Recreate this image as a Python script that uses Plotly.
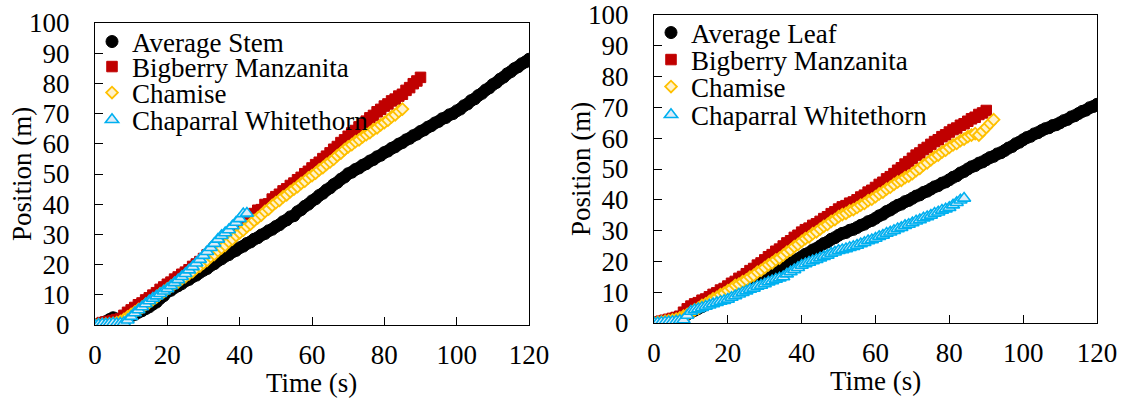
import plotly.graph_objects as go

# ---------------- data (position in m, sampled every 1 s from t = 0) ----------------
stem_avg = [0.0, 0.3, 0.7, 1.1, 1.8, 2.4, 2.0, 1.5, 1.8, 2.4, 3.0,
            3.5, 4.2, 4.7, 5.4, 6.0, 6.9, 7.6, 8.8, 9.7, 11.0,
            11.5, 12.4, 13.0, 13.7, 14.6, 15.1, 16.0, 16.5, 17.4, 18.1,
            18.7, 19.7, 20.3, 21.3, 21.9, 22.8, 23.3, 24.2, 24.7, 25.6,
            26.1, 27.0, 27.5, 28.4, 28.9, 29.8, 30.3, 31.2, 31.7, 32.6,
            33.2, 34.2, 34.8, 35.8, 36.2, 37.5, 38.2, 39.3, 40.0, 41.1,
            41.8, 42.9, 43.6, 44.7, 45.4, 46.5, 47.2, 48.3, 49.0, 50.1,
            50.6, 51.5, 52.0, 52.9, 53.4, 54.3, 54.8, 55.7, 56.2, 57.1,
            57.6, 58.5, 59.0, 59.9, 60.4, 61.3, 61.8, 62.7, 63.2, 64.1,
            64.6, 65.5, 66.0, 66.9, 67.4, 68.3, 68.7, 69.6, 70.0, 70.9,
            71.5, 72.6, 73.2, 74.3, 74.9, 76.0, 76.7, 77.8, 78.5, 79.6,
            80.3, 81.4, 82.1, 83.2, 83.9, 84.9, 85.5, 86.5, 87.1, 88.0]
stem_bigberry = [0.0, 0.4, 0.8, 1.0, 1.2, 1.5, 1.8, 2.0, 3.2, 4.2, 5.0,
                 5.8, 6.7, 7.3, 8.3, 9.0, 9.9, 10.7, 11.8, 12.6, 13.5,
                 14.2, 15.2, 15.9, 16.8, 17.5, 18.3, 19.4, 20.2, 21.0, 22.0,
                 23.2, 24.1, 25.4, 26.3, 27.5, 28.5, 29.8, 30.7, 32.0, 33.0,
                 34.1, 34.9, 36.1, 36.9, 38.0, 38.2, 39.9, 40.1, 41.7, 42.5,
                 43.3, 44.4, 45.1, 46.2, 47.0, 48.1, 48.9, 50.1, 50.9, 52.0,
                 53.1, 53.9, 55.1, 55.9, 57.0, 58.2, 59.1, 60.4, 61.3, 62.5,
                 63.6, 64.4, 65.6, 66.4, 67.5, 68.6, 69.4, 70.6, 71.4, 72.5,
                 73.2, 74.2, 74.8, 75.8, 76.4, 77.7, 78.6, 79.9, 80.8, 82.0]
stem_chamise = [0.0, 0.1, 0.2, 0.3, 0.4, 0.5, 0.8, 1.2, 1.9, 2.7, 3.5,
                4.3, 5.2, 5.8, 6.8, 7.5, 8.4, 9.2, 10.3, 11.0, 12.0,
                12.8, 13.7, 14.3, 15.3, 16.0, 16.9, 17.7, 18.8, 19.5, 20.5,
                21.4, 22.6, 23.4, 24.6, 25.5, 26.4, 27.6, 28.4, 29.6, 30.5,
                31.4, 32.6, 33.4, 34.6, 35.5, 36.4, 37.6, 38.4, 39.6, 40.5,
                41.3, 42.4, 43.1, 44.2, 45.0, 45.8, 46.9, 47.6, 48.7, 49.5,
                50.3, 51.4, 52.1, 53.2, 54.0, 54.9, 56.1, 56.9, 58.1, 59.0,
                59.7, 60.7, 61.3, 62.3, 63.0, 63.7, 64.7, 65.3, 66.3, 67.0,
                67.8, 68.9, 69.6, 70.7, 71.5]
stem_whitethorn = [0.0, 0.2, 0.3, 0.3, 0.5, 0.6, 0.5, 0.6, 0.8, 1.6, 2.8,
                   4.0, 5.0, 6.0, 7.0, 8.0, 8.8, 9.6, 10.4, 11.2, 12.0,
                   13.0, 14.0, 15.0, 16.0, 17.0, 18.2, 19.3, 20.5, 21.7, 23.0,
                   24.3, 25.6, 27.0, 28.4, 29.6, 30.5, 31.5, 32.8, 34.0, 35.2,
                   36.8, 37.0]

leaf_avg = [0.0, 0.1, 0.2, 0.4, 0.7, 1.0, 1.3, 1.7, 2.2, 2.8, 3.5,
            4.1, 4.7, 5.3, 5.9, 6.5, 7.1, 7.7, 8.3, 8.9, 9.5,
            9.9, 10.3, 10.7, 11.1, 11.5, 12.0, 12.5, 13.0, 13.5, 14.0,
            14.8, 15.6, 16.4, 17.2, 18.0, 18.7, 19.4, 20.1, 20.8, 21.5,
            22.3, 22.8, 23.7, 24.2, 25.0, 25.8, 26.3, 27.2, 27.7, 28.5,
            29.1, 29.4, 30.1, 30.4, 31.0, 31.7, 32.1, 32.9, 33.3, 34.0,
            34.8, 35.3, 36.2, 36.7, 37.5, 38.2, 38.6, 39.4, 39.8, 40.5,
            41.2, 41.6, 42.4, 42.8, 43.5, 44.2, 44.6, 45.4, 45.8, 46.5,
            47.3, 47.8, 48.7, 49.2, 50.0, 50.7, 51.1, 51.9, 52.3, 53.0,
            53.7, 54.1, 54.9, 55.3, 56.0, 56.8, 57.3, 58.2, 58.7, 59.5,
            60.2, 60.6, 61.4, 61.8, 62.5, 63.1, 63.4, 64.1, 64.4, 65.0,
            65.7, 66.1, 66.9, 67.3, 68.0, 68.7, 69.1, 69.9, 70.3, 71.0]
leaf_bigberry = [0.0, 0.3, 0.6, 0.9, 1.2, 1.5, 1.8, 2.2, 3.5, 4.6, 5.5,
                 6.2, 6.6, 7.4, 7.8, 8.5, 9.3, 9.8, 10.7, 11.2, 12.0,
                 12.9, 13.5, 14.5, 15.1, 16.0, 17.0, 17.7, 18.8, 19.5, 20.5,
                 21.5, 22.2, 23.3, 24.0, 25.0, 26.0, 26.7, 27.8, 28.5, 29.5,
                 30.3, 30.8, 31.7, 32.2, 33.0, 33.9, 34.5, 35.5, 36.1, 37.0,
                 37.7, 38.1, 38.9, 39.3, 40.0, 40.9, 41.5, 42.5, 43.1, 44.0,
                 45.0, 45.7, 46.8, 47.5, 48.5, 49.6, 50.4, 51.6, 52.4, 53.5,
                 54.5, 55.2, 56.3, 57.0, 58.0, 58.9, 59.5, 60.5, 61.1, 62.0,
                 62.8, 63.3, 64.2, 64.7, 65.5, 66.3, 66.8, 67.7, 68.2, 69.0]
leaf_chamise = [0.0, 0.2, 0.4, 0.6, 0.8, 1.0, 1.3, 1.7, 2.2, 2.8, 3.5,
                4.3, 4.8, 5.7, 6.2, 7.0, 7.8, 8.3, 9.2, 9.7, 10.5,
                11.2, 12.2, 12.6, 13.4, 14.0, 14.9, 15.5, 16.5, 17.1, 18.0,
                18.9, 19.5, 20.5, 21.1, 22.0, 23.0, 23.7, 24.8, 25.5, 26.5,
                27.4, 28.0, 29.0, 29.6, 30.5, 31.4, 32.0, 33.0, 33.6, 34.5,
                35.2, 35.6, 36.4, 36.8, 37.5, 38.3, 38.8, 39.7, 40.2, 41.0,
                41.9, 42.5, 43.5, 44.1, 45.0, 45.8, 46.3, 47.2, 47.7, 48.5,
                49.5, 50.2, 51.3, 52.0, 53.0, 53.9, 54.5, 55.5, 56.1, 57.0,
                57.8, 58.3, 59.2, 59.7, 60.5, 61.0, 61.5, 61.0, 62.3, 63.5,
                64.8, 66.0]
leaf_whitethorn = [0.0, 0.1, 0.2, 0.3, 0.4, 0.5, 0.6, 0.8, 1.0, 2.5, 3.8,
                   4.3, 4.6, 5.0, 5.4, 5.8, 6.2, 6.6, 7.0, 7.3, 7.7,
                   8.3, 8.8, 9.4, 9.9, 10.4, 10.9, 11.3, 11.9, 12.2, 12.7,
                   13.3, 13.7, 14.2, 14.6, 15.0, 15.9, 16.6, 17.3, 18.0, 18.7,
                   19.2, 19.7, 20.2, 20.6, 21.1, 21.6, 22.0, 22.6, 23.0, 23.5,
                   23.8, 24.1, 24.5, 24.8, 25.2, 25.7, 26.1, 26.7, 27.0, 27.5,
                   28.1, 28.5, 29.1, 29.5, 30.0, 30.6, 31.0, 31.6, 32.0, 32.5,
                   33.1, 33.5, 34.1, 34.5, 35.0, 35.6, 36.0, 36.6, 37.0, 37.5,
                   38.3, 39.1, 39.9, 40.5]

stem_names = ["Average Stem", "Bigberry Manzanita", "Chamise", "Chaparral Whitethorn"]
leaf_names = ["Average Leaf", "Bigberry Manzanita", "Chamise", "Chaparral Whitethorn"]

x_ticks = [0, 20, 40, 60, 80, 100, 120]
y_ticks = [0, 10, 20, 30, 40, 50, 60, 70, 80, 90, 100]

# ---------------- styling ----------------
FONT = "Times New Roman, Liberation Serif, serif"
FS = 27
styles = [
    dict(symbol="circle", size=12, color="#000000", line=dict(color="#000000", width=1)),
    dict(symbol="square", size=10.5, color="#C00000", line=dict(color="#C00000", width=1)),
    dict(symbol="diamond", size=9, color="#FFF2CC", line=dict(color="#FFC000", width=1.8)),
    dict(symbol="triangle-up", size=11.5, color="#DDEBF7", line=dict(color="#00B0F0", width=1.6)),
]

W, H = 1121, 399
panels = [
    dict(series=[stem_avg, stem_bigberry, stem_chamise, stem_whitethorn], names=stem_names,
         xpx=(95, 529), ypx=(23, 325), xa="x", ya="y",
         leg_x=92, leg_rows=[42, 67, 93, 120]),
    dict(series=[leaf_avg, leaf_bigberry, leaf_chamise, leaf_whitethorn], names=leaf_names,
         xpx=(654, 1097), ypx=(15, 323), xa="x2", ya="y2",
         leg_x=651, leg_rows=[33, 60, 87, 115]),
]

fig = go.Figure()
layout = dict(width=W, height=H, margin=dict(l=0, r=0, t=0, b=0, autoexpand=False),
              paper_bgcolor="white", plot_bgcolor="white", showlegend=True,
              font=dict(family=FONT, size=FS, color="black"), annotations=[])

legend_idx = 1
for p_i, p in enumerate(panels):
    for s_i, (vals, name) in enumerate(zip(p["series"], p["names"])):
        lname = "legend" if legend_idx == 1 else "legend%d" % legend_idx
        st = styles[s_i]
        fig.add_trace(go.Scatter(
            x=list(range(len(vals))), y=vals, name=name, mode="markers",
            xaxis=p["xa"], yaxis=p["ya"], legend=lname, showlegend=True,
            marker=dict(symbol=st["symbol"], size=st["size"], color=st["color"], line=st["line"]),
        ))
        layout[lname] = dict(x=p["leg_x"] / W, xanchor="left",
                             y=1 - p["leg_rows"][s_i] / H, yanchor="middle",
                             bgcolor="rgba(0,0,0,0)", borderwidth=0, visible=True,
                             font=dict(family=FONT, size=FS, color="black"))
        legend_idx += 1

    x0, x1 = p["xpx"]
    y0, y1 = p["ypx"]
    suffix = "" if p_i == 0 else "2"
    axis_common = dict(showline=True, linecolor="black", linewidth=1, mirror=True,
                       ticks="inside", ticklen=8, tickcolor="black", tickwidth=1,
                       showgrid=False, zeroline=False, automargin=False,
                       tickfont=dict(family=FONT, size=FS, color="black"))
    layout["xaxis" + suffix] = dict(axis_common, domain=[x0 / W, x1 / W], range=[0, 120],
                                    tickvals=x_ticks, anchor="y" + suffix,
                                    ticklabelstandoff=6)
    layout["yaxis" + suffix] = dict(axis_common, domain=[1 - y1 / H, 1 - y0 / H], range=[0, 100],
                                    tickvals=y_ticks, anchor="x" + suffix,
                                    ticklabelstandoff=19)
    layout["annotations"].append(dict(text="Time (s)", xref="paper", yref="paper",
                                      x=(x0 + x1) / 2 / W, y=1 - (y1 + 58) / H,
                                      xanchor="center", yanchor="middle", showarrow=False,
                                      font=dict(family=FONT, size=FS, color="black")))
    layout["annotations"].append(dict(text="Position (m)", xref="paper", yref="paper",
                                      x=(x0 - 73) / W, y=1 - (y0 + y1) / 2 / H,
                                      xanchor="center", yanchor="middle", textangle=-90,
                                      showarrow=False,
                                      font=dict(family=FONT, size=FS, color="black")))

fig.update_layout(**layout)
fig.write_html("out.html",
               config={"displayModeBar": False},
               post_script="document.body.style.margin='0px';document.body.style.padding='0px';")
